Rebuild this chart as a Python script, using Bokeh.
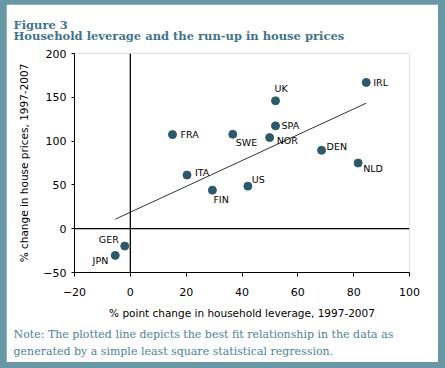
import numpy as np
from bokeh.plotting import figure
from bokeh.models import ColumnDataSource, Span, Title, Range1d, FixedTicker, Column
from bokeh.core.properties import value
from bokeh.embed import file_html
from bokeh.resources import INLINE

# ---- data ----
countries = ["IRL", "UK", "SPA", "SWE", "NOR", "DEN", "NLD", "US", "FIN", "ITA", "FRA", "GER", "JPN"]
leverage_change = [84.5, 52.0, 52.0, 36.7, 49.9, 68.5, 81.6, 42.1, 29.4, 20.3, 15.1, -2.0, -5.4]
house_price_change = [167.0, 146.0, 117.4, 107.8, 104.0, 89.5, 75.0, 48.6, 44.0, 61.2, 107.4, -19.8, -30.5]
x_ticks = [-20, 0, 20, 40, 60, 80, 100]
y_ticks = [-50, 0, 50, 100, 150, 200]

# label placement (screen px offsets from each point)
label_dx = [7, -1, 6, 3, 7, 5, 5, 4, 1, 8, 8, -6, -7]
label_dy = [0, -12, 0, 8, 3, -4, 5, -7, 9, -3, 0, -7, 5]
label_align = ["left"] * 11 + ["right", "right"]

# least squares fit line across the data's x extent
slope, intercept = np.polyfit(leverage_change, house_price_change, 1)
fit_x = [min(leverage_change), max(leverage_change)]
fit_y = [slope * v + intercept for v in fit_x]

TEAL = "#6897a6"
TITLE_C = "#3f7489"
NOTE_C = "#4d8397"
DOT_C = "#2d5a6b"
SANS = "DejaVu Sans"
SERIF = "DejaVu Serif"

p = figure(width=432, height=358, output_backend="svg", toolbar_location=None,
           x_range=Range1d(-20, 100), y_range=Range1d(-50, 200),
           min_border_left=68, min_border_right=29, min_border_top=49, min_border_bottom=90,
           border_fill_color="white", background_fill_color="white", title=None)
p.outline_line_color = None
p.grid.visible = False

for ax in (p.xaxis[0], p.yaxis[0]):
    ax.axis_line_color = "black"
    ax.major_tick_line_color = "black"
    ax.minor_tick_line_color = None
    ax.major_tick_in = 0
    ax.major_label_text_font = SANS
    ax.major_label_text_font_size = "11px"
    ax.major_label_text_color = "black"
    ax.axis_label_text_font = SANS
    ax.axis_label_text_font_size = "10.5px"
    ax.axis_label_text_font_style = "normal"
    ax.axis_label_text_color = "black"

p.xaxis[0].ticker = FixedTicker(ticks=x_ticks)
p.yaxis[0].ticker = FixedTicker(ticks=y_ticks)
p.xaxis[0].major_tick_out = 4
p.yaxis[0].major_tick_out = 3
p.xaxis[0].major_label_standoff = 11
p.yaxis[0].major_label_standoff = 5
p.xaxis[0].axis_label = "% point change in household leverage, 1997-2007"
p.yaxis[0].axis_label = "% change in house prices, 1997-2007"
p.xaxis[0].axis_label_standoff = 8
p.yaxis[0].axis_label_standoff = 10

p.add_layout(Span(location=0, dimension="width", line_color="black", line_width=1.3))
p.add_layout(Span(location=0, dimension="height", line_color="black", line_width=1.3))

p.line(fit_x, fit_y, line_color="#333333", line_width=1)

src = ColumnDataSource(dict(x=leverage_change, y=house_price_change, name=countries,
                            dx=label_dx, dy=label_dy, align=label_align))
p.scatter("x", "y", source=src, marker="circle", size=8, fill_color=DOT_C, line_color=DOT_C)
p.text("x", "y", text="name", source=src, x_offset="dx", y_offset="dy", text_align="align",
       text_baseline="middle", text_font=value(SANS), text_font_size="9.5px", text_color="black")

# two-line heading above the plot
p.add_layout(Title(text="Figure 3\nHousehold leverage and the run-up in house prices", align="left",
                   offset=-61, text_font=SERIF, text_font_size="11.5px", text_font_style="bold",
                   text_color=TITLE_C, text_line_height=0.78, standoff=21), "above")

# notes below
p.add_layout(Title(text="Note: The plotted line depicts the best fit relationship in the data as",
                   align="left", offset=-61, text_font=SERIF, text_font_size="11px",
                   text_font_style="normal", text_color=NOTE_C, standoff=8), "below")
p.add_layout(Title(text="generated by a simple least square statistical regression.",
                   align="left", offset=-61, text_font=SERIF, text_font_size="11px",
                   text_font_style="normal", text_color=NOTE_C, standoff=-3), "below")

root = Column(children=[p], styles={"background-color": TEAL, "padding": "4px 7px 6px 6px"})

open("out.html", "w").write(file_html(root, INLINE))
